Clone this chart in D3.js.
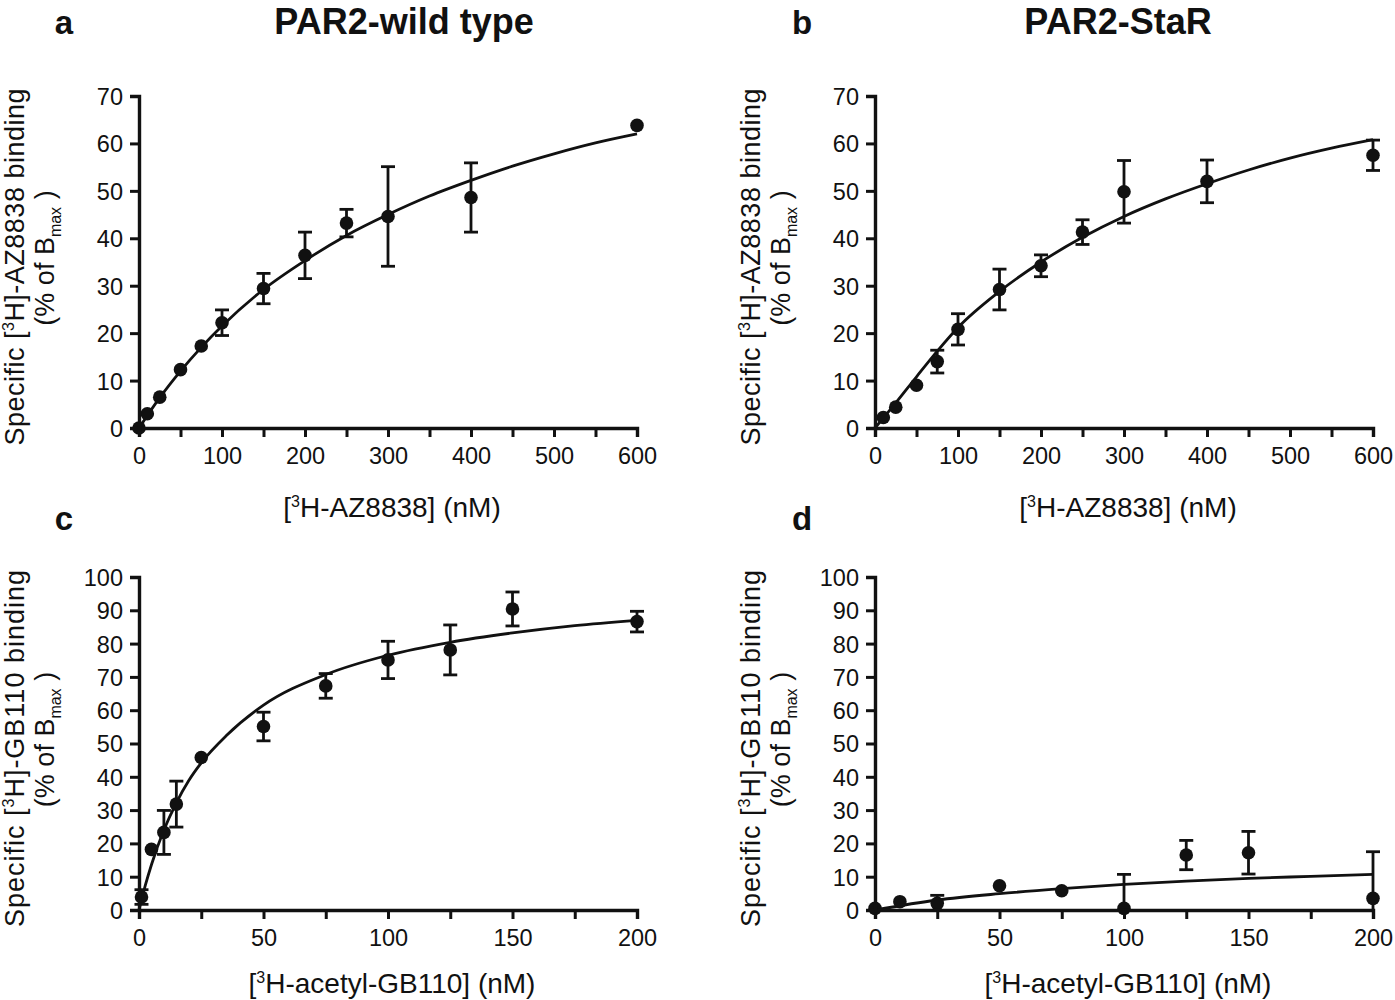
<!DOCTYPE html>
<html>
<head>
<meta charset="utf-8">
<script src="https://cdn.jsdelivr.net/npm/d3@7"></script>
<style>
  html, body { margin: 0; padding: 0; background: #fff; }
  svg { display: block; font-family: "Liberation Sans", Arial, Helvetica, sans-serif; }
</style>
</head>
<body>
<svg id="chart" width="1395" height="1000"></svg>
<script>
// ---------- Data ----------
// Panel a: PAR2-wild type, [3H]-AZ8838
const aConc  = [0, 10, 25, 50, 75, 100, 150, 200, 250, 300, 400, 600];
const aValue = [0, 3.0, 6.5, 12.3, 17.3, 22.2, 29.4, 36.4, 43.2, 44.6, 48.6, 63.8];
const aError = [0, 0, 0, 0, 0, 2.7, 3.2, 4.9, 2.9, 10.5, 7.3, 0];
const aFitX  = [0, 25, 50, 75, 100, 150, 200, 250, 300, 350, 400, 450, 500, 550, 600];
const aFitY  = [0, 6.4, 12.0, 17.0, 21.5, 29.2, 35.3, 40.6, 45.0, 48.9, 52.2, 55.2, 57.8, 60.1, 62.0];

// Panel b: PAR2-StaR, [3H]-AZ8838
const bConc  = [10, 25, 50, 75, 100, 150, 200, 250, 300, 400, 600];
const bValue = [2.2, 4.4, 9.0, 14.0, 20.8, 29.2, 34.2, 41.3, 49.8, 52.0, 57.5];
const bError = [0, 0, 0, 2.4, 3.3, 4.3, 2.3, 2.6, 6.6, 4.5, 3.2];
const bFitX  = [0, 25, 50, 75, 100, 150, 200, 250, 300, 350, 400, 450, 500, 550, 600];
const bFitY  = [0, 5.3, 10.8, 16.2, 21.2, 28.8, 35.0, 40.2, 44.6, 48.3, 51.5, 54.4, 56.9, 59.0, 60.8];

// Panel c: PAR2-wild type, [3H]-acetyl-GB110
const cConc  = [1, 5, 10, 15, 25, 50, 75, 100, 125, 150, 200];
const cValue = [3.9, 18.2, 23.3, 31.8, 45.8, 55.1, 67.3, 75.1, 78.1, 90.4, 86.6];
const cError = [2.2, 0, 6.6, 6.9, 0, 4.3, 3.7, 5.6, 7.5, 5.1, 3.1];
const cFitX  = [0, 2.5, 5, 10, 15, 20, 25, 35, 50, 75, 100, 125, 150, 175, 200];
const cFitY  = [0, 7.3, 13.6, 24.0, 32.2, 38.9, 44.2, 52.3, 61.5, 70.7, 76.5, 80.4, 83.2, 85.4, 87.0];

// Panel d: PAR2-StaR, [3H]-acetyl-GB110
const dConc  = [0, 10, 25, 50, 75, 100, 125, 150, 200];
const dValue = [0.5, 2.5, 2.0, 7.3, 5.8, 0.5, 16.5, 17.2, 3.5];
const dError = [0, 0, 2.4, 0, 0, 10.2, 4.4, 6.4, 14.0];
const dFitX  = [0, 25, 50, 75, 100, 125, 150, 175, 200];
const dFitY  = [0, 3.0, 4.9, 6.4, 7.7, 8.7, 9.5, 10.1, 10.7];

// Axis ticks
const azXTicks = [0, 100, 200, 300, 400, 500, 600];
const azXMinor = [50, 150, 250, 350, 450, 550];
const azYTicks = [0, 10, 20, 30, 40, 50, 60, 70];
const gbXTicks = [0, 50, 100, 150, 200];
const gbXMinor = [25, 75, 125, 175];
const gbYTicks = [0, 10, 20, 30, 40, 50, 60, 70, 80, 90, 100];

const panelLetters = ["a", "b", "c", "d"];
const titles = ["PAR2-wild type", "PAR2-StaR"];
const yLabelLigand = ["AZ8838", "AZ8838", "GB110", "GB110"];
const xLabelLigand = ["AZ8838", "AZ8838", "acetyl-GB110", "acetyl-GB110"];

// ---------- Drawing ----------
const svg = d3.select("#chart");

const panels = [
  { x: aConc, y: aValue, e: aError, fx: aFitX, fy: aFitY, xd: [0, 600], yd: [0, 70],
    xt: azXTicks, xm: azXMinor, yt: azYTicks, px: [139, 637], py: [428, 96], xlOff: 89 },
  { x: bConc, y: bValue, e: bError, fx: bFitX, fy: bFitY, xd: [0, 600], yd: [0, 70],
    xt: azXTicks, xm: azXMinor, yt: azYTicks, px: [875, 1373], py: [428, 96], xlOff: 89 },
  { x: cConc, y: cValue, e: cError, fx: cFitX, fy: cFitY, xd: [0, 200], yd: [0, 100],
    xt: gbXTicks, xm: gbXMinor, yt: gbYTicks, px: [139, 637], py: [910, 577], xlOff: 83 },
  { x: dConc, y: dValue, e: dError, fx: dFitX, fy: dFitY, xd: [0, 200], yd: [0, 100],
    xt: gbXTicks, xm: gbXMinor, yt: gbYTicks, px: [875, 1373], py: [910, 577], xlOff: 83 }
];

const ink = "#111";

panels.forEach((p, i) => {
  const xs = d3.scaleLinear().domain(p.xd).range(p.px);
  const ys = d3.scaleLinear().domain(p.yd).range(p.py);
  const g = svg.append("g");

  // fit curve
  const line = d3.line().x((d) => xs(d[0])).y((d) => ys(d[1])).curve(d3.curveMonotoneX);
  g.append("path")
    .datum(p.fx.map((v, k) => [v, p.fy[k]]))
    .attr("d", line)
    .attr("fill", "none")
    .attr("stroke", ink)
    .attr("stroke-width", 2.8);

  // error bars
  const pts = p.x.map((v, k) => ({ x: v, y: p.y[k], e: p.e[k] }));
  const eb = g.append("g").attr("stroke", ink).attr("stroke-width", 2.8);
  pts.filter((d) => d.e > 0).forEach((d) => {
    const hi = d.y + d.e;
    const lo = Math.max(p.yd[0], d.y - d.e);
    const cx = xs(d.x);
    eb.append("line").attr("x1", cx).attr("x2", cx).attr("y1", ys(hi)).attr("y2", ys(lo));
    eb.append("line").attr("x1", cx - 7).attr("x2", cx + 7).attr("y1", ys(hi)).attr("y2", ys(hi));
    if (d.y - d.e > p.yd[0]) {
      eb.append("line").attr("x1", cx - 7).attr("x2", cx + 7).attr("y1", ys(lo)).attr("y2", ys(lo));
    }
  });

  // points
  g.selectAll("circle.pt").data(pts).join("circle")
    .attr("class", "pt")
    .attr("cx", (d) => xs(d.x)).attr("cy", (d) => ys(d.y))
    .attr("r", 6.8).attr("fill", ink);

  // axes
  const xAxis = d3.axisBottom(xs).tickValues(p.xt).tickSize(9).tickPadding(9).tickFormat(d3.format("d"));
  const gx = g.append("g").attr("transform", `translate(0,${p.py[0]})`).call(xAxis);
  const xMinor = d3.axisBottom(xs).tickValues(p.xm).tickSize(9).tickFormat("");
  const gxm = g.append("g").attr("transform", `translate(0,${p.py[0]})`).call(xMinor);
  gxm.select(".domain").remove();

  const yAxis = d3.axisLeft(ys).tickValues(p.yt).tickSize(9).tickPadding(7).tickFormat(d3.format("d"));
  const gy = g.append("g").attr("transform", `translate(${p.px[0]},0)`).call(yAxis);

  [gx, gxm, gy].forEach((a) => {
    a.selectAll("path.domain").attr("stroke", ink).attr("stroke-width", 3.4);
    a.selectAll(".tick line").attr("stroke", ink).attr("stroke-width", 3);
    a.selectAll(".tick text").attr("fill", ink).style("font-size", "23.5px")
      .style("font-family", "'Liberation Sans', Arial, sans-serif");
  });
  gx.selectAll(".tick text").attr("dy", "0.75em");
  gy.selectAll(".tick text").attr("dy", "0.36em");

  // y-axis label
  const midY = (p.py[0] + p.py[1]) / 2;
  const xl = p.px[0] - 115;
  const yl = g.append("text")
    .attr("transform", `translate(${xl},${midY + 5}) rotate(-90)`)
    .attr("text-anchor", "middle").attr("fill", ink).style("font-size", "27px")
    .attr("textLength", 357).attr("lengthAdjust", "spacing");
  yl.append("tspan").text("Specific [");
  yl.append("tspan").text("3").style("font-size", "16px").attr("dy", "-10");
  yl.append("tspan").text(`H]-${yLabelLigand[i]} binding`).attr("dy", "10");

  const yl2 = g.append("text")
    .attr("transform", `translate(${xl + 30},${midY - 4}) rotate(-90)`)
    .attr("text-anchor", "middle").attr("fill", ink).style("font-size", "27px");
  yl2.append("tspan").text("(% of B");
  yl2.append("tspan").text("max").style("font-size", "16px").attr("dy", "7");
  yl2.append("tspan").text(" )").attr("dy", "-7");

  // x-axis label
  const midX = (p.px[0] + p.px[1]) / 2;
  const xlab = g.append("text")
    .attr("x", midX + 4).attr("y", p.py[0] + p.xlOff)
    .attr("text-anchor", "middle").attr("fill", ink).style("font-size", "28px");
  xlab.append("tspan").text("[");
  xlab.append("tspan").text("3").style("font-size", "16px").attr("dy", "-10");
  xlab.append("tspan").text(`H-${xLabelLigand[i]}] (nM)`).attr("dy", "10");

  // panel letter
  const letterX = i % 2 === 0 ? 64 : 802;
  const letterY = i < 2 ? 34 : 530;
  svg.append("text").attr("x", letterX).attr("y", letterY)
    .attr("text-anchor", "middle").attr("fill", ink)
    .style("font-size", "33px").style("font-weight", "bold").text(panelLetters[i]);
});

// Titles
svg.append("text").attr("x", 404).attr("y", 34).attr("text-anchor", "middle").attr("fill", ink)
  .style("font-size", "36px").style("font-weight", "bold").text(titles[0]);
svg.append("text").attr("x", 1118).attr("y", 34).attr("text-anchor", "middle").attr("fill", ink)
  .style("font-size", "36px").style("font-weight", "bold").text(titles[1]);
</script>
</body>
</html>
